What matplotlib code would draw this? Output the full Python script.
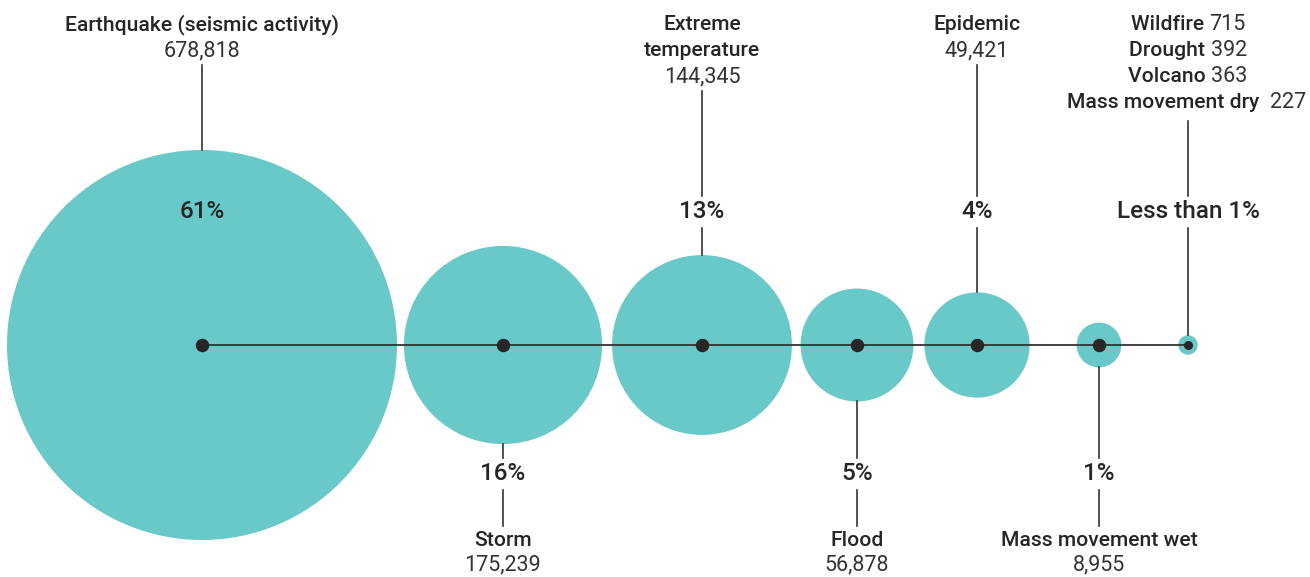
import matplotlib
matplotlib.use("Agg")
import matplotlib.pyplot as plt
from matplotlib.patches import Circle
import numpy as np

# ---- data ----
categories = ["Earthquake (seismic activity)", "Storm", "Extreme\ntemperature",
              "Flood", "Epidemic", "Mass movement wet", "Other"]
deaths = [678818, 175239, 144345, 56878, 49421, 8955, 1697]
pct_labels = ["61%", "16%", "13%", "5%", "4%", "1%", "Less than 1%"]
other_names = ["Wildfire", "Drought", "Volcano", "Mass movement dry"]
other_values = [715, 392, 363, 227]

# ---- layout ----
W, H = 1310, 577
x_centers = [202, 503, 702, 857, 977, 1099, 1188]
y_axis = 345
k = 195 / np.sqrt(max(deaths))   # px per sqrt(value)
label_side = ["top", "bottom", "top", "bottom", "top", "bottom", "top"]

teal = "#69C8C8"
dark = "#262626"
valc = "#333333"
linec = "#333333"
FONT = "Roboto"

fig = plt.figure(figsize=(W / 100, H / 100), dpi=100)
ax = fig.add_axes([0, 0, 1, 1])
ax.set_xlim(0, W)
ax.set_ylim(H, 0)
ax.axis("off")

radii = [k * np.sqrt(v) for v in deaths]
for x, r in zip(x_centers, radii):
    ax.add_patch(Circle((x, y_axis), r, facecolor=teal, edgecolor="none", zorder=1))

ax.plot([x_centers[0], x_centers[-1]], [y_axis, y_axis], color=linec, lw=1.3, zorder=2)
for i, x in enumerate(x_centers):
    ax.scatter([x], [y_axis], s=75 if i < len(x_centers) - 1 else 30, color=dark, zorder=3)

name_fs = 15.2
val_fs = 15.5
pct_fs = 17.5

def fmt(v):
    return f"{v:,}"

for i, (x, r) in enumerate(zip(x_centers, radii)):
    side = label_side[i]
    top = y_axis - r
    bot = y_axis + r
    if i == len(x_centers) - 1:
        continue
    if side == "top":
        lines = categories[i].split("\n")
        y0 = 25
        for j, ln in enumerate(lines):
            ax.text(x, y0 + 26 * j, ln, ha="center", va="center", fontsize=name_fs,
                    family=FONT, weight="medium", color=dark)
        yv = y0 + 26 * len(lines)
        ax.text(x, yv, fmt(deaths[i]), ha="center", va="center", fontsize=val_fs,
                family=FONT, weight="normal", color=valc)
        line_start = yv + 14
        if top > 212 + 15:
            ax.plot([x, x], [line_start, 196], color=linec, lw=1.2)
            ax.plot([x, x], [228, top], color=linec, lw=1.2)
        else:
            ax.plot([x, x], [line_start, top], color=linec, lw=1.2)
        ax.text(x, 212, pct_labels[i], ha="center", va="center", fontsize=pct_fs,
                family=FONT, weight="medium", color=dark)
    else:
        ax.plot([x, x], [bot, 458], color=linec, lw=1.2)
        ax.text(x, 474, pct_labels[i], ha="center", va="center", fontsize=pct_fs,
                family=FONT, weight="medium", color=dark)
        ax.plot([x, x], [490, 526], color=linec, lw=1.2)
        ax.text(x, 541, categories[i], ha="center", va="center", fontsize=name_fs,
                family=FONT, weight="medium", color=dark)
        ax.text(x, 565, fmt(deaths[i]), ha="center", va="center", fontsize=val_fs,
                family=FONT, weight="normal", color=valc)

# "Other" group: mixed-weight lines centred on the last circle
x = x_centers[-1]
r = radii[-1]
renderer = fig.canvas.get_renderer()
for j, (nm, v) in enumerate(zip(other_names, other_values)):
    y = 25 + 26 * j
    sep = "  " if j == len(other_names) - 1 else " "
    t1 = ax.text(0, y, nm + sep, ha="left", va="center", fontsize=name_fs,
                 family=FONT, weight="medium", color=dark)
    t2 = ax.text(0, y, str(v), ha="left", va="center", fontsize=val_fs,
                 family=FONT, weight="normal", color=valc)
    w1 = t1.get_window_extent(renderer).width
    w2 = t2.get_window_extent(renderer).width
    total = w1 + w2
    start = x - total / 2
    start = min(start, W - 4 - total)
    t1.set_x(start)
    t2.set_x(start + w1)

ax.plot([x, x], [121, 196], color=linec, lw=1.2)
ax.text(x, 212, pct_labels[-1], ha="center", va="center", fontsize=pct_fs,
        family=FONT, weight="medium", color=dark)
ax.plot([x, x], [228, y_axis - r], color=linec, lw=1.2)

fig.savefig("out.png", dpi=100)
